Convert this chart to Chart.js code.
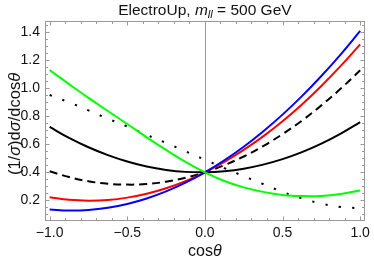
<!DOCTYPE html>
<html>
<head>
<meta charset="utf-8">
<script src="https://cdn.jsdelivr.net/npm/chart.js@4/dist/chart.umd.min.js"></script>
<style>
  html, body { margin: 0; padding: 0; background: #fff; }
  canvas { display: block; }
</style>
</head>
<body>
<canvas id="myChart" width="374" height="262"></canvas>
<script>
// values
const cosTheta = [-1, -0.875, -0.75, -0.625, -0.5, -0.375, -0.25, -0.125, 0,
                  0.125, 0.25, 0.375, 0.5, 0.625, 0.75, 0.875, 1];
const blueVals   = [0.134, 0.127, 0.131, 0.147, 0.174, 0.213, 0.264, 0.326, 0.400,
                    0.486, 0.583, 0.692, 0.812, 0.944, 1.088, 1.243, 1.410];
const redVals    = [0.221, 0.203, 0.197, 0.202, 0.219, 0.247, 0.286, 0.337, 0.400,
                    0.474, 0.560, 0.657, 0.765, 0.885, 1.017, 1.160, 1.314];
const dashedVals = [0.407, 0.366, 0.336, 0.318, 0.312, 0.316, 0.333, 0.361, 0.400,
                    0.451, 0.513, 0.587, 0.673, 0.769, 0.878, 0.998, 1.129];
const blackVals  = [0.724, 0.646, 0.579, 0.523, 0.477, 0.441, 0.417, 0.403, 0.400,
                    0.408, 0.426, 0.455, 0.494, 0.544, 0.605, 0.677, 0.759];
const greenVals  = [1.130, 1.030, 0.932, 0.838, 0.745, 0.650, 0.560, 0.475, 0.400,
                    0.338, 0.292, 0.260, 0.238, 0.230, 0.231, 0.245, 0.270];
const dottedVals = [0.952, 0.900, 0.842, 0.783, 0.727, 0.667, 0.610, 0.550, 0.490,
                    0.430, 0.372, 0.316, 0.260, 0.214, 0.176, 0.152, 0.143];

const xTickValues = [-1, -0.5, 0, 0.5, 1];
const yTickValues = [0.2, 0.4, 0.6, 0.8, 1.0, 1.2, 1.4];

const FONT = '"Liberation Sans", Arial, sans-serif';
const FRAME_COLOR = '#999999';
const TEXT_COLOR = '#111111';

function pts(vals) {
    return cosTheta.map((c, i) => ({ x: c, y: vals[i] }));
}

function fmt(v) {
    return v.toFixed(1).replace('-', '\u2212');
}

// draw a run of [text, italic, sizeScale, dy] pieces, centred at (cx, cy)
function drawRich(ctx, parts, size, cx, cy) {
    const fontOf = p => (p[1] ? 'italic ' : '') + (size * (p[2] || 1)).toFixed(1) + 'px ' + FONT;
    let total = 0;
    parts.forEach(p => {
        ctx.font = fontOf(p);
        total += ctx.measureText(p[0]).width;
    });
    let x = cx - total / 2;
    parts.forEach(p => {
        ctx.font = fontOf(p);
        ctx.fillText(p[0], x, cy + (p[3] || 0));
        x += ctx.measureText(p[0]).width;
    });
}

const framePlugin = {
    id: 'frame',
    beforeDatasetsDraw(chart) {
        const { ctx, chartArea: a, scales } = chart;
        const x0 = Math.round(scales.x.getPixelForValue(0)) + 0.5;
        ctx.save();
        ctx.strokeStyle = FRAME_COLOR;
        ctx.lineWidth = 1;
        ctx.beginPath();
        ctx.moveTo(x0, a.top);
        ctx.lineTo(x0, a.bottom);
        ctx.stroke();
        ctx.restore();
    },
    afterDatasetsDraw(chart) {
        const { ctx, chartArea: a, scales } = chart;
        const L = Math.round(a.left) + 0.5, R = Math.round(a.right) - 0.5;
        const T = Math.round(a.top) + 0.5, B = Math.round(a.bottom) - 0.5;
        ctx.save();
        ctx.strokeStyle = FRAME_COLOR;
        ctx.lineWidth = 1;
        ctx.strokeRect(L, T, R - L, B - T);
        ctx.beginPath();
        // x ticks, every 0.1, majors every 0.5
        for (let k = -10; k <= 10; k++) {
            const px = Math.round(scales.x.getPixelForValue(k / 10)) + 0.5;
            const len = (k % 5 === 0) ? 4 : 2.5;
            ctx.moveTo(px, B); ctx.lineTo(px, B - len);
            ctx.moveTo(px, T); ctx.lineTo(px, T + len);
        }
        // y ticks, every 0.05, majors every 0.2
        for (let k = 1; k <= 29; k++) {
            const py = Math.round(scales.y.getPixelForValue(k * 0.05)) + 0.5;
            if (py < T || py > B) continue;
            const len = (k % 4 === 0) ? 4 : 2.5;
            ctx.moveTo(L, py); ctx.lineTo(L + len, py);
            ctx.moveTo(R, py); ctx.lineTo(R - len, py);
        }
        ctx.stroke();
        ctx.restore();
    },
    afterDraw(chart) {
        const { ctx, chartArea: a } = chart;
        const cx = (a.left + a.right) / 2;
        ctx.save();
        ctx.fillStyle = TEXT_COLOR;
        ctx.textBaseline = 'alphabetic';
        // title
        drawRich(ctx, [
            ['ElectroUp, ', false],
            ['m', true],
            ['ll', true, 0.72, 3],
            [' = 500 GeV', false]
        ], 15.5, cx, 15);
        // x axis title
        drawRich(ctx, [['cos', false], ['\u03B8', true]], 16, cx, 256);
        // y axis title
        ctx.translate(20, (a.top + a.bottom) / 2 + 3);
        ctx.rotate(-Math.PI / 2);
        drawRich(ctx, [
            ['(1/', false], ['\u03C3', true], [')d', false], ['\u03C3', true],
            ['/dcos', false], ['\u03B8', true]
        ], 16.5, 0, 0);
        ctx.restore();
    }
};

new Chart(document.getElementById('myChart').getContext('2d'), {
    type: 'line',
    data: {
        datasets: [
            { label: 'green', data: pts(greenVals), borderColor: '#00ff00' },
            { label: 'blue', data: pts(blueVals), borderColor: '#0000ff' },
            { label: 'red', data: pts(redVals), borderColor: '#ff0000' },
            { label: 'dashed', data: pts(dashedVals), borderColor: '#000000', borderDash: [8, 5] },
            { label: 'black', data: pts(blackVals), borderColor: '#000000' },
            { label: 'dotted', data: pts(dottedVals), borderColor: '#000000', borderDash: [2.2, 11.3] }
        ].map(d => Object.assign({
            borderWidth: 2,
            pointRadius: 0,
            tension: 0.4,
            fill: false
        }, d))
    },
    options: {
        responsive: false,
        animation: false,
        layout: { padding: { top: 21, right: 7, left: 0, bottom: 0 } },
        plugins: {
            legend: { display: false },
            title: { display: false },
            tooltip: { enabled: false }
        },
        scales: {
            x: {
                type: 'linear',
                min: -1.03,
                max: 1.03,
                grid: { display: false, drawTicks: false },
                border: { display: false },
                afterBuildTicks: s => { s.ticks = xTickValues.map(v => ({ value: v })); },
                afterFit: s => { s.height = 41; },
                ticks: {
                    padding: 4,
                    color: TEXT_COLOR,
                    font: { family: FONT, size: 14 },
                    maxRotation: 0,
                    callback: v => fmt(v)
                }
            },
            y: {
                type: 'linear',
                min: 0.052,
                max: 1.481,
                grid: { display: false, drawTicks: false },
                border: { display: false },
                afterBuildTicks: s => { s.ticks = yTickValues.map(v => ({ value: v })); },
                afterFit: s => { s.width = 45; },
                ticks: {
                    padding: 5,
                    color: TEXT_COLOR,
                    font: { family: FONT, size: 14 },
                    callback: v => fmt(v)
                }
            }
        }
    },
    plugins: [framePlugin]
});
</script>
</body>
</html>
